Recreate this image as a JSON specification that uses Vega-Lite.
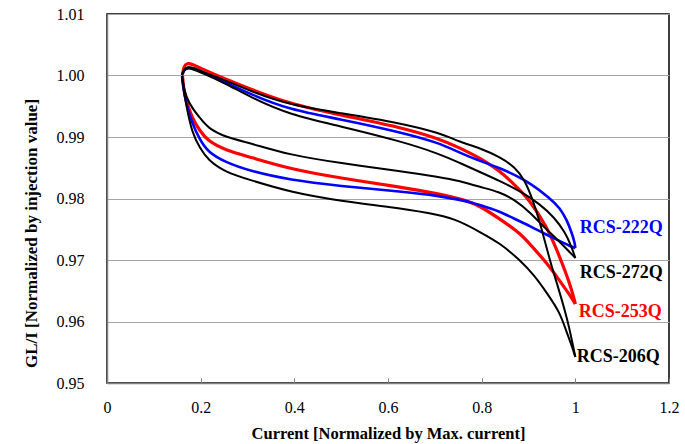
{
  "$schema": "https://vega.github.io/schema/vega-lite/v6.json",
  "width": 562,
  "height": 369,
  "autosize": "none",
  "padding": {"left": 107, "top": 14, "right": 16, "bottom": 61},
  "background": "white",
  "config": {
    "font": "Liberation Serif",
    "view": {"stroke": "#000000", "strokeWidth": 1.5},
    "axis": {
      "labelFont": "Liberation Serif",
      "titleFont": "Liberation Serif",
      "labelColor": "#000000",
      "titleColor": "#000000",
      "labelFontSize": 16,
      "titleFontSize": 16.5,
      "titleFontWeight": "bold",
      "domainColor": "#808080",
      "domainWidth": 1.5,
      "labelFlush": false,
      "labelOverlap": false
    }
  },
  "datasets": {
    "curves": [
      {"s":"RCS-222Q","b":"u","i":0,"x":0.1601,"y":1.00008},
      {"s":"RCS-222Q","b":"u","i":1,"x":0.1644,"y":1.00089},
      {"s":"RCS-222Q","b":"u","i":2,"x":0.1729,"y":1.00138},
      {"s":"RCS-222Q","b":"u","i":3,"x":0.1878,"y":1.00106},
      {"s":"RCS-222Q","b":"u","i":4,"x":0.1985,"y":1.00073},
      {"s":"RCS-222Q","b":"u","i":5,"x":0.2519,"y":0.99894},
      {"s":"RCS-222Q","b":"u","i":6,"x":0.3052,"y":0.99699},
      {"s":"RCS-222Q","b":"u","i":7,"x":0.3906,"y":0.99439},
      {"s":"RCS-222Q","b":"u","i":8,"x":0.4973,"y":0.99293},
      {"s":"RCS-222Q","b":"u","i":9,"x":0.6254,"y":0.99081},
      {"s":"RCS-222Q","b":"u","i":10,"x":0.7108,"y":0.98902},
      {"s":"RCS-222Q","b":"u","i":11,"x":0.7535,"y":0.98740},
      {"s":"RCS-222Q","b":"u","i":12,"x":0.7962,"y":0.98610},
      {"s":"RCS-222Q","b":"u","i":13,"x":0.8388,"y":0.98496},
      {"s":"RCS-222Q","b":"u","i":14,"x":0.8709,"y":0.98382},
      {"s":"RCS-222Q","b":"u","i":15,"x":0.9029,"y":0.98252},
      {"s":"RCS-222Q","b":"u","i":16,"x":0.9456,"y":0.98008},
      {"s":"RCS-222Q","b":"u","i":17,"x":0.9669,"y":0.97846},
      {"s":"RCS-222Q","b":"u","i":18,"x":0.9819,"y":0.97650},
      {"s":"RCS-222Q","b":"u","i":19,"x":0.9925,"y":0.97439},
      {"s":"RCS-222Q","b":"u","i":20,"x":0.9989,"y":0.97276},
      {"s":"RCS-222Q","b":"u","i":21,"x":1.0,"y":0.97195},
      {"s":"RCS-222Q","b":"l","i":0,"x":1.0,"y":0.97195},
      {"s":"RCS-222Q","b":"l","i":1,"x":0.9883,"y":0.97228},
      {"s":"RCS-222Q","b":"l","i":2,"x":0.9669,"y":0.97309},
      {"s":"RCS-222Q","b":"l","i":3,"x":0.9392,"y":0.97407},
      {"s":"RCS-222Q","b":"l","i":4,"x":0.9029,"y":0.97553},
      {"s":"RCS-222Q","b":"l","i":5,"x":0.8666,"y":0.97683},
      {"s":"RCS-222Q","b":"l","i":6,"x":0.8388,"y":0.97789},
      {"s":"RCS-222Q","b":"l","i":7,"x":0.7962,"y":0.97894},
      {"s":"RCS-222Q","b":"l","i":8,"x":0.7748,"y":0.97943},
      {"s":"RCS-222Q","b":"l","i":9,"x":0.7535,"y":0.97976},
      {"s":"RCS-222Q","b":"l","i":10,"x":0.7108,"y":0.98041},
      {"s":"RCS-222Q","b":"l","i":11,"x":0.6254,"y":0.98114},
      {"s":"RCS-222Q","b":"l","i":12,"x":0.4973,"y":0.98203},
      {"s":"RCS-222Q","b":"l","i":13,"x":0.3906,"y":0.98301},
      {"s":"RCS-222Q","b":"l","i":14,"x":0.3052,"y":0.98447},
      {"s":"RCS-222Q","b":"l","i":15,"x":0.2519,"y":0.98593},
      {"s":"RCS-222Q","b":"l","i":16,"x":0.2156,"y":0.98756},
      {"s":"RCS-222Q","b":"l","i":17,"x":0.1985,"y":0.98951},
      {"s":"RCS-222Q","b":"l","i":18,"x":0.1814,"y":0.99228},
      {"s":"RCS-222Q","b":"l","i":19,"x":0.1686,"y":0.99553},
      {"s":"RCS-222Q","b":"l","i":20,"x":0.1633,"y":0.99797},
      {"s":"RCS-222Q","b":"l","i":21,"x":0.1601,"y":0.99992},

      {"s":"RCS-253Q","b":"u","i":0,"x":0.1612,"y":1.00024},
      {"s":"RCS-253Q","b":"u","i":1,"x":0.1644,"y":1.00154},
      {"s":"RCS-253Q","b":"u","i":2,"x":0.1708,"y":1.00203},
      {"s":"RCS-253Q","b":"u","i":3,"x":0.1814,"y":1.00187},
      {"s":"RCS-253Q","b":"u","i":4,"x":0.1985,"y":1.00122},
      {"s":"RCS-253Q","b":"u","i":5,"x":0.2519,"y":0.99943},
      {"s":"RCS-253Q","b":"u","i":6,"x":0.3052,"y":0.99780},
      {"s":"RCS-253Q","b":"u","i":7,"x":0.3906,"y":0.99537},
      {"s":"RCS-253Q","b":"u","i":8,"x":0.4973,"y":0.99358},
      {"s":"RCS-253Q","b":"u","i":9,"x":0.6254,"y":0.99163},
      {"s":"RCS-253Q","b":"u","i":10,"x":0.7108,"y":0.98967},
      {"s":"RCS-253Q","b":"u","i":11,"x":0.7535,"y":0.98821},
      {"s":"RCS-253Q","b":"u","i":12,"x":0.7962,"y":0.98659},
      {"s":"RCS-253Q","b":"u","i":13,"x":0.8388,"y":0.98447},
      {"s":"RCS-253Q","b":"u","i":14,"x":0.8666,"y":0.98252},
      {"s":"RCS-253Q","b":"u","i":15,"x":0.9029,"y":0.97976},
      {"s":"RCS-253Q","b":"u","i":16,"x":0.9392,"y":0.97537},
      {"s":"RCS-253Q","b":"u","i":17,"x":0.9605,"y":0.97163},
      {"s":"RCS-253Q","b":"u","i":18,"x":0.9776,"y":0.96837},
      {"s":"RCS-253Q","b":"u","i":19,"x":0.9925,"y":0.96512},
      {"s":"RCS-253Q","b":"u","i":20,"x":1.0,"y":0.96285},
      {"s":"RCS-253Q","b":"l","i":0,"x":1.0,"y":0.96285},
      {"s":"RCS-253Q","b":"l","i":1,"x":0.9883,"y":0.96431},
      {"s":"RCS-253Q","b":"l","i":2,"x":0.9669,"y":0.96659},
      {"s":"RCS-253Q","b":"l","i":3,"x":0.9392,"y":0.96951},
      {"s":"RCS-253Q","b":"l","i":4,"x":0.9029,"y":0.97260},
      {"s":"RCS-253Q","b":"l","i":5,"x":0.8815,"y":0.97439},
      {"s":"RCS-253Q","b":"l","i":6,"x":0.8388,"y":0.97667},
      {"s":"RCS-253Q","b":"l","i":7,"x":0.7962,"y":0.97878},
      {"s":"RCS-253Q","b":"l","i":8,"x":0.7748,"y":0.97943},
      {"s":"RCS-253Q","b":"l","i":9,"x":0.7535,"y":0.97992},
      {"s":"RCS-253Q","b":"l","i":10,"x":0.7108,"y":0.98073},
      {"s":"RCS-253Q","b":"l","i":11,"x":0.6254,"y":0.98187},
      {"s":"RCS-253Q","b":"l","i":12,"x":0.4973,"y":0.98333},
      {"s":"RCS-253Q","b":"l","i":13,"x":0.3906,"y":0.98480},
      {"s":"RCS-253Q","b":"l","i":14,"x":0.3052,"y":0.98675},
      {"s":"RCS-253Q","b":"l","i":15,"x":0.2519,"y":0.98789},
      {"s":"RCS-253Q","b":"l","i":16,"x":0.2156,"y":0.98935},
      {"s":"RCS-253Q","b":"l","i":17,"x":0.1985,"y":0.99098},
      {"s":"RCS-253Q","b":"l","i":18,"x":0.1814,"y":0.99309},
      {"s":"RCS-253Q","b":"l","i":19,"x":0.1686,"y":0.99602},
      {"s":"RCS-253Q","b":"l","i":20,"x":0.1633,"y":0.99797},
      {"s":"RCS-253Q","b":"l","i":21,"x":0.1612,"y":0.99992},

      {"s":"RCS-206Q","b":"u","i":0,"x":0.1601,"y":1.00008},
      {"s":"RCS-206Q","b":"u","i":1,"x":0.1644,"y":1.00106},
      {"s":"RCS-206Q","b":"u","i":2,"x":0.1729,"y":1.00138},
      {"s":"RCS-206Q","b":"u","i":3,"x":0.1814,"y":1.00138},
      {"s":"RCS-206Q","b":"u","i":4,"x":0.1985,"y":1.00073},
      {"s":"RCS-206Q","b":"u","i":5,"x":0.2519,"y":0.99927},
      {"s":"RCS-206Q","b":"u","i":6,"x":0.3052,"y":0.99748},
      {"s":"RCS-206Q","b":"u","i":7,"x":0.3906,"y":0.99520},
      {"s":"RCS-206Q","b":"u","i":8,"x":0.4973,"y":0.99390},
      {"s":"RCS-206Q","b":"u","i":9,"x":0.6254,"y":0.99228},
      {"s":"RCS-206Q","b":"u","i":10,"x":0.7108,"y":0.99065},
      {"s":"RCS-206Q","b":"u","i":11,"x":0.7535,"y":0.98919},
      {"s":"RCS-206Q","b":"u","i":12,"x":0.7962,"y":0.98821},
      {"s":"RCS-206Q","b":"u","i":13,"x":0.8388,"y":0.98675},
      {"s":"RCS-206Q","b":"u","i":14,"x":0.8709,"y":0.98512},
      {"s":"RCS-206Q","b":"u","i":15,"x":0.8922,"y":0.98301},
      {"s":"RCS-206Q","b":"u","i":16,"x":0.9093,"y":0.97976},
      {"s":"RCS-206Q","b":"u","i":17,"x":0.9242,"y":0.97618},
      {"s":"RCS-206Q","b":"u","i":18,"x":0.9370,"y":0.97244},
      {"s":"RCS-206Q","b":"u","i":19,"x":0.9498,"y":0.96886},
      {"s":"RCS-206Q","b":"u","i":20,"x":0.9605,"y":0.96626},
      {"s":"RCS-206Q","b":"u","i":21,"x":0.9712,"y":0.96350},
      {"s":"RCS-206Q","b":"u","i":22,"x":0.9819,"y":0.96057},
      {"s":"RCS-206Q","b":"u","i":23,"x":0.9904,"y":0.95780},
      {"s":"RCS-206Q","b":"u","i":24,"x":1.0,"y":0.95423},
      {"s":"RCS-206Q","b":"l","i":0,"x":1.0,"y":0.95423},
      {"s":"RCS-206Q","b":"l","i":1,"x":0.9904,"y":0.95650},
      {"s":"RCS-206Q","b":"l","i":2,"x":0.9819,"y":0.95813},
      {"s":"RCS-206Q","b":"l","i":3,"x":0.9669,"y":0.96154},
      {"s":"RCS-206Q","b":"l","i":4,"x":0.9392,"y":0.96463},
      {"s":"RCS-206Q","b":"l","i":5,"x":0.9136,"y":0.96740},
      {"s":"RCS-206Q","b":"l","i":6,"x":0.8815,"y":0.97000},
      {"s":"RCS-206Q","b":"l","i":7,"x":0.8388,"y":0.97276},
      {"s":"RCS-206Q","b":"l","i":8,"x":0.7962,"y":0.97455},
      {"s":"RCS-206Q","b":"l","i":9,"x":0.7535,"y":0.97634},
      {"s":"RCS-206Q","b":"l","i":10,"x":0.7108,"y":0.97732},
      {"s":"RCS-206Q","b":"l","i":11,"x":0.6254,"y":0.97846},
      {"s":"RCS-206Q","b":"l","i":12,"x":0.4973,"y":0.97959},
      {"s":"RCS-206Q","b":"l","i":13,"x":0.3906,"y":0.98106},
      {"s":"RCS-206Q","b":"l","i":14,"x":0.3052,"y":0.98301},
      {"s":"RCS-206Q","b":"l","i":15,"x":0.2519,"y":0.98431},
      {"s":"RCS-206Q","b":"l","i":16,"x":0.2156,"y":0.98626},
      {"s":"RCS-206Q","b":"l","i":17,"x":0.1985,"y":0.98821},
      {"s":"RCS-206Q","b":"l","i":18,"x":0.1814,"y":0.99065},
      {"s":"RCS-206Q","b":"l","i":19,"x":0.1686,"y":0.99537},
      {"s":"RCS-206Q","b":"l","i":20,"x":0.1633,"y":0.99797},
      {"s":"RCS-206Q","b":"l","i":21,"x":0.1601,"y":0.99992},

      {"s":"RCS-272Q","b":"u","i":0,"x":0.1601,"y":1.00008},
      {"s":"RCS-272Q","b":"u","i":1,"x":0.1644,"y":1.00089},
      {"s":"RCS-272Q","b":"u","i":2,"x":0.1729,"y":1.00122},
      {"s":"RCS-272Q","b":"u","i":3,"x":0.1814,"y":1.00106},
      {"s":"RCS-272Q","b":"u","i":4,"x":0.1985,"y":1.00057},
      {"s":"RCS-272Q","b":"u","i":5,"x":0.2519,"y":0.99878},
      {"s":"RCS-272Q","b":"u","i":6,"x":0.3052,"y":0.99650},
      {"s":"RCS-272Q","b":"u","i":7,"x":0.3906,"y":0.99358},
      {"s":"RCS-272Q","b":"u","i":8,"x":0.4973,"y":0.99179},
      {"s":"RCS-272Q","b":"u","i":9,"x":0.6254,"y":0.98935},
      {"s":"RCS-272Q","b":"u","i":10,"x":0.7108,"y":0.98724},
      {"s":"RCS-272Q","b":"u","i":11,"x":0.7535,"y":0.98577},
      {"s":"RCS-272Q","b":"u","i":12,"x":0.7962,"y":0.98431},
      {"s":"RCS-272Q","b":"u","i":13,"x":0.8388,"y":0.98285},
      {"s":"RCS-272Q","b":"u","i":14,"x":0.8815,"y":0.98122},
      {"s":"RCS-272Q","b":"u","i":15,"x":0.9242,"y":0.97911},
      {"s":"RCS-272Q","b":"u","i":16,"x":0.9562,"y":0.97683},
      {"s":"RCS-272Q","b":"u","i":17,"x":0.9776,"y":0.97455},
      {"s":"RCS-272Q","b":"u","i":18,"x":0.9904,"y":0.97244},
      {"s":"RCS-272Q","b":"u","i":19,"x":1.0,"y":0.97033},
      {"s":"RCS-272Q","b":"l","i":0,"x":1.0,"y":0.97033},
      {"s":"RCS-272Q","b":"l","i":1,"x":0.9776,"y":0.97211},
      {"s":"RCS-272Q","b":"l","i":2,"x":0.9562,"y":0.97374},
      {"s":"RCS-272Q","b":"l","i":3,"x":0.9349,"y":0.97520},
      {"s":"RCS-272Q","b":"l","i":4,"x":0.9029,"y":0.97780},
      {"s":"RCS-272Q","b":"l","i":5,"x":0.8709,"y":0.97976},
      {"s":"RCS-272Q","b":"l","i":6,"x":0.8388,"y":0.98106},
      {"s":"RCS-272Q","b":"l","i":7,"x":0.7962,"y":0.98187},
      {"s":"RCS-272Q","b":"l","i":8,"x":0.7535,"y":0.98285},
      {"s":"RCS-272Q","b":"l","i":9,"x":0.7108,"y":0.98350},
      {"s":"RCS-272Q","b":"l","i":10,"x":0.6254,"y":0.98447},
      {"s":"RCS-272Q","b":"l","i":11,"x":0.4973,"y":0.98577},
      {"s":"RCS-272Q","b":"l","i":12,"x":0.3906,"y":0.98707},
      {"s":"RCS-272Q","b":"l","i":13,"x":0.3052,"y":0.98902},
      {"s":"RCS-272Q","b":"l","i":14,"x":0.2519,"y":0.99000},
      {"s":"RCS-272Q","b":"l","i":15,"x":0.2156,"y":0.99146},
      {"s":"RCS-272Q","b":"l","i":16,"x":0.1985,"y":0.99309},
      {"s":"RCS-272Q","b":"l","i":17,"x":0.1814,"y":0.99472},
      {"s":"RCS-272Q","b":"l","i":18,"x":0.1686,"y":0.99667},
      {"s":"RCS-272Q","b":"l","i":19,"x":0.1633,"y":0.99829},
      {"s":"RCS-272Q","b":"l","i":20,"x":0.1601,"y":0.99992}
    ],
    "labels": [
      {"s":"RCS-222Q","x":1.0096,"y":0.97520},
      {"s":"RCS-272Q","x":1.0096,"y":0.96789},
      {"s":"RCS-253Q","x":1.0075,"y":0.96154},
      {"s":"RCS-206Q","x":1.0032,"y":0.95423}
    ]
  },
  "encoding": {
    "x": {
      "field": "x", "type": "quantitative",
      "scale": {"domain": [0, 1.2], "nice": false, "zero": false},
      "axis": {
        "values": [0, 0.2, 0.4, 0.6, 0.8, 1, 1.2],
        "format": ".1~f",
        "title": "Current [Normalized by Max. current]",
        "grid": false,
        "tickSize": -5,
        "tickColor": "#808080",
        "tickWidth": 1,
        "labelPadding": 21,
        "titlePadding": 10
      }
    },
    "y": {
      "field": "y", "type": "quantitative",
      "scale": {"domain": [0.95, 1.01], "nice": false, "zero": false},
      "axis": {
        "values": [0.95, 0.96, 0.97, 0.98, 0.99, 1.0, 1.01],
        "format": ".2f",
        "title": "GL/I [Normalized by injection value]",
        "titleFontSize": 17,
        "titleY": 219,
        "grid": true,
        "gridColor": "#a6a6a6",
        "gridWidth": 1,
        "ticks": false,
        "tickSize": 0,
        "labelPadding": 23,
        "titlePadding": 16
      }
    },
    "color": {
      "field": "s", "type": "nominal",
      "scale": {
        "domain": ["RCS-222Q", "RCS-272Q", "RCS-253Q", "RCS-206Q"],
        "range": ["#0000ff", "#000000", "#ff0000", "#000000"]
      },
      "legend": null
    }
  },
  "layer": [
    {
      "data": {"name": "curves"},
      "transform": [{"filter": "datum.s === 'RCS-253Q'"}],
      "mark": {"type": "line", "interpolate": "basis", "strokeWidth": 3.2},
      "encoding": {"detail": {"field": "b"}, "order": {"field": "i", "type": "quantitative"}}
    },
    {
      "data": {"name": "curves"},
      "transform": [{"filter": "datum.s === 'RCS-222Q'"}],
      "mark": {"type": "line", "interpolate": "basis", "strokeWidth": 2.6},
      "encoding": {"detail": {"field": "b"}, "order": {"field": "i", "type": "quantitative"}}
    },
    {
      "data": {"name": "curves"},
      "transform": [{"filter": "datum.s === 'RCS-272Q' || datum.s === 'RCS-206Q'"}],
      "mark": {"type": "line", "interpolate": "basis", "strokeWidth": 2},
      "encoding": {"detail": {"field": "b"}, "order": {"field": "i", "type": "quantitative"}}
    },
    {
      "data": {"name": "labels"},
      "mark": {"type": "text", "align": "left", "baseline": "middle", "fontSize": 18, "fontWeight": "bold", "font": "Liberation Serif"},
      "encoding": {"text": {"field": "s"}}
    }
  ]
}
